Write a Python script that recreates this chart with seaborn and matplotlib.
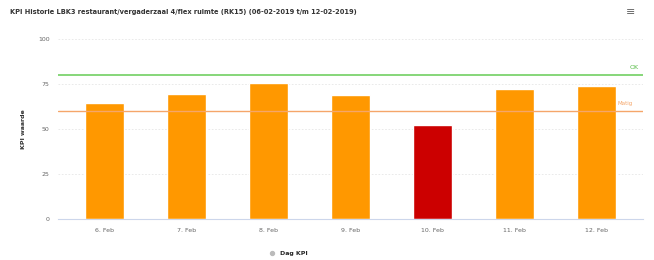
import matplotlib
matplotlib.use("Agg")
import matplotlib.pyplot as plt
import seaborn as sns
import pandas as pd

# data
days = ['6. Feb', '7. Feb', '8. Feb', '9. Feb', '10. Feb', '11. Feb', '12. Feb']
kpi = [64.4, 69.4, 75.6, 69.2, 52.4, 72.4, 74.2]
bar_colors = ['#ff9800', '#ff9800', '#ff9800', '#ff9800', '#cc0000', '#ff9800', '#ff9800']
ok_level = 80
matig_level = 60

sns.set_style("white")
plt.rcParams['font.family'] = ['DejaVu Sans']

df = pd.DataFrame({'Dag': days, 'KPI': kpi})

fig = plt.figure(figsize=(6.54, 2.60), dpi=100)
ax = fig.add_axes([58 / 654, 1 - 219.3 / 260, (643 - 58) / 654, (219.3 - 39.3) / 260])

sns.barplot(data=df, x='Dag', y='KPI', hue='Dag', palette=bar_colors, legend=False,
            width=0.48, saturation=1, ax=ax)

ax.set_ylim(0, 100)
ax.set_yticks([0, 25, 50, 75, 100])
ax.yaxis.grid(True, color='#e6e6e6', linewidth=0.6, linestyle=(0, (2, 2)))
ax.set_axisbelow(True)
for s in ['top', 'right', 'left']:
    ax.spines[s].set_visible(False)
ax.spines['bottom'].set_color('#ccd6eb')
ax.spines['bottom'].set_linewidth(0.8)
ax.tick_params(axis='both', labelsize=4.5, colors='#666666', length=0, pad=6)
ax.set_xlabel('')
ax.set_ylabel('KPI waarde', fontsize=4.5, color='#333333', fontweight='bold', labelpad=9)

# threshold lines
ax.axhline(ok_level, color='#66cc55', linewidth=1.1, zorder=1)
ax.axhline(matig_level, color='#f5a66a', linewidth=1.0, zorder=1)
ax.text(0.985, ok_level + 3, 'OK', transform=ax.get_yaxis_transform(), color='#55bb44',
        fontsize=4.5, ha='center', va='bottom')
ax.text(0.97, matig_level + 3, 'Matig', transform=ax.get_yaxis_transform(), color='#f5a66a',
        fontsize=4, ha='center', va='bottom')

fig.text(10 / 654, 1 - 12 / 260, 'KPI Historie LBK3 restaurant/vergaderzaal 4/flex ruimte (RK15) '
         '(06-02-2019 t/m 12-02-2019)', fontsize=4.8, fontweight='bold', color='#333333',
         ha='left', va='center')
fig.text(631 / 654, 1 - 12 / 260, '\u2261', fontsize=8, color='#666666', ha='center', va='center')

# legend
ax.scatter([], [], color='#bbbbbb', s=8, label='Dag KPI')
fig.legend(loc='center', bbox_to_anchor=(287 / 654, 1 - 253 / 260), frameon=False,
           handletextpad=0.3, markerscale=1, prop={'weight': 'bold', 'size': 4.5})

fig.savefig('out.png', dpi=100)
